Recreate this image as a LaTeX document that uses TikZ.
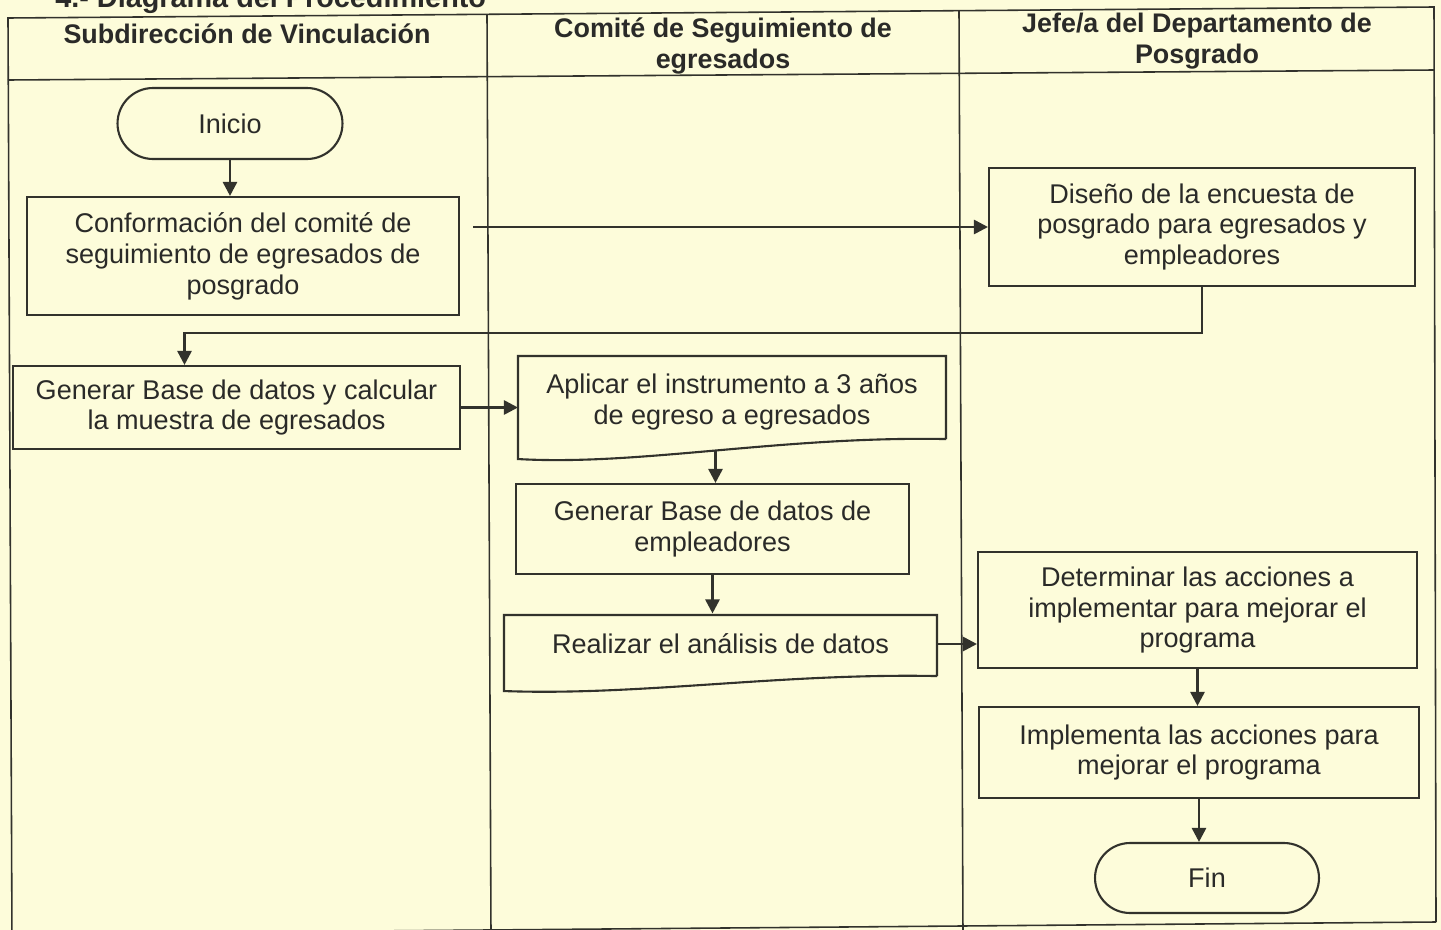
\documentclass[tikz,border=0pt]{standalone}
\usepackage{fontspec}
\setmainfont{Liberation Sans}
\usetikzlibrary{shapes.misc,arrows.meta}
\definecolor{bg}{RGB}{253,252,218}
\definecolor{ink}{RGB}{50,50,44}
\definecolor{txt}{RGB}{42,42,40}
\begin{document}
\begin{tikzpicture}[x=0.02cm,y=-0.02cm,
  box/.style={draw=ink,line width=1.2pt,fill=bg,text=txt,align=center,
    font=\fontsize{15.4}{17.6}\selectfont,inner sep=0pt},
  doc/.style={box,draw=none,fill=none},
  docline/.style={draw=ink,line width=1.2pt},
  term/.style={box,rounded rectangle},
  arr/.style={draw=ink,line width=1.5pt,-{Triangle[length=8pt,width=8pt]}},
  lane/.style={draw=ink,line width=0.9pt},
  head/.style={text=txt,align=center,font=\bfseries\fontsize{15.3}{17.6}\selectfont}]
\fill[bg] (0,0) rectangle (1441,930);
\useasboundingbox (0,0) rectangle (1441,930);
\begin{scope}
\clip (0,0) rectangle (1441,930);
% title (cut off at top, as in the scan)
\node[anchor=base west,text=txt,font=\bfseries\fontsize{16.4}{18}\selectfont,inner sep=0pt] (title) at (55,7) {4.- Diagrama del Procedimiento};
% swimlane frame
\draw[lane] (12,940) -- (8,18) -- (1434,7) -- (1436,922);
\draw[lane] (1436,922) -- (12,934);
\draw[lane] (8,80) -- (1434,70);
\draw[lane] (487,15) -- (491,935);
\draw[lane] (959,11) -- (963,935);
\end{scope}
% headers
\node[head] (h1) at (247,34) {Subdirección de Vinculación};
\node[head] (h2) at (723,46) {Comité de Seguimiento de\\egresados};
\node[head] (h3) at (1197,41) {Jefe/a del Departamento de\\Posgrado};
% nodes
\node[term,minimum width=4.5cm,minimum height=1.42cm] (ini) at (230,123.5) {Inicio};
\node[box,minimum width=8.64cm,minimum height=2.36cm] (conf) at (243,256) {Conformación del comité de\\seguimiento de egresados de\\posgrado};
\node[box,minimum width=8.52cm,minimum height=2.36cm] (dis) at (1202,227) {Diseño de la encuesta de\\posgrado para egresados y\\empleadores};
\node[box,minimum width=8.94cm,minimum height=1.66cm] (gen) at (236.5,407.5) {Generar Base de datos y calcular\\la muestra de egresados};
\node[doc,minimum width=8.52cm,minimum height=1.62cm] (apl) at (732,402) {Aplicar el instrumento a 3 años\\de egreso a egresados};
\draw[docline] ([yshift=0.09cm]apl.south east) -- ([yshift=0.09cm]apl.north east) -- ([yshift=0.09cm]apl.north west) -- ([yshift=-0.31cm]apl.south west)
  .. controls (640,466) and (780,436) .. coordinate[pos=0.5] (aplb) ([yshift=0.09cm]apl.south east);
\node[box,minimum width=7.86cm,minimum height=1.8cm] (gemp) at (712.5,529) {Generar Base de datos de\\empleadores};
\node[doc,minimum width=8.62cm,minimum height=1.18cm] (rea) at (720.5,644) {Realizar el análisis de datos};
\draw[docline] ([yshift=-0.03cm]rea.south east) -- ([yshift=-0.03cm]rea.north east) -- ([yshift=-0.03cm]rea.north west) -- ([yshift=-0.33cm]rea.south west)
  .. controls (640,696) and (780,673) .. ([yshift=-0.03cm]rea.south east);
\node[box,minimum width=8.78cm,minimum height=2.32cm] (det) at (1197.5,610) {Determinar las acciones a\\implementar para mejorar el\\programa};
\node[box,minimum width=8.8cm,minimum height=1.82cm] (imp) at (1199,752.5) {Implementa las acciones para\\mejorar el programa};
\node[term,minimum width=4.48cm,minimum height=1.4cm] (fin) at (1207,878) {Fin};
% connectors
\draw[arr] (ini.south) -- (ini.south |- conf.north);
\draw[arr] (conf.east |- dis.west) ++(13,0) -- (dis.west);
\draw[arr] (dis.south) -- ++(0,46) -| ([xshift=-1.04cm]gen.north);
\draw[arr] (gen.east) -- (gen.east -| apl.west);
\draw[arr] (aplb) -- (aplb |- gemp.north);
\draw[arr] (gemp.south) -- (gemp.south |- rea.north);
\draw[arr] (rea.east) -- (rea.east -| det.west);
\draw[arr] (det.south) -- (det.south |- imp.north);
\draw[arr] (imp.south) -- (imp.south |- fin.north);
\end{tikzpicture}
\end{document}
